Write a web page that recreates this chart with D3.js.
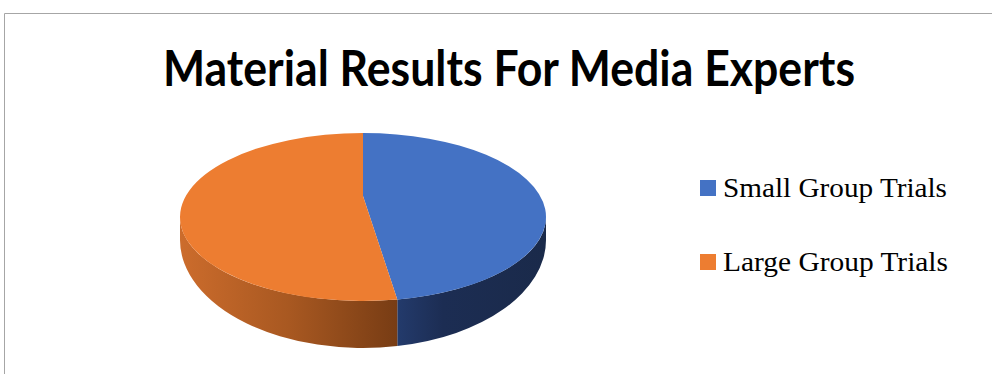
<!DOCTYPE html>
<html>
<head>
<meta charset="utf-8">
<script src="https://cdn.jsdelivr.net/npm/d3@7"></script>
<style>
  html, body { margin: 0; padding: 0; background: #fff; }
  svg { display: block; }
</style>
</head>
<body>
<svg id="chart" width="992" height="374"></svg>
<script>
var titleText = "Material Results For Media Experts";
var categories = ["Small Group Trials", "Large Group Trials"];
var values = [47, 53];
var topColors = ["#4472C4", "#ED7D31"];

var svg = d3.select("#chart");

// frame
svg.append("path")
    .attr("d", "M4.5,374 L4.5,13.5 L992,13.5")
    .attr("fill", "none")
    .attr("stroke", "#a6a6a6")
    .attr("stroke-width", 1);

svg.append("text")
    .attr("x", 509)
    .attr("y", 86)
    .attr("text-anchor", "middle")
    .attr("font-family", "Lato, 'Open Sans', sans-serif")
    .attr("font-weight", "bold")
    .attr("font-size", 50)
    .attr("textLength", 692)
    .attr("lengthAdjust", "spacingAndGlyphs")
    .attr("fill", "#000")
    .text(titleText);

// 3d pie geometry
var cx = 363, cyTop = 217, rx = 183, ryTop = 84;
var cyBot = 240, ryBot = 108;
var apexY = 196;

function pt(t, cy, ry) {
    return [cx + rx * Math.sin(t), cy - ry * Math.cos(t)];
}

var pie = d3.pie().sort(null).startAngle(0).endAngle(2 * Math.PI);
var arcs = pie(values);

var defs = svg.append("defs");
var gBlue = defs.append("linearGradient").attr("id", "sideBlue")
    .attr("gradientUnits", "userSpaceOnUse").attr("x1", 399).attr("x2", 546).attr("y1", 0).attr("y2", 0);
gBlue.append("stop").attr("offset", 0).attr("stop-color", "#233a6b");
gBlue.append("stop").attr("offset", 0.3).attr("stop-color", "#1c2d53");
gBlue.append("stop").attr("offset", 1).attr("stop-color", "#1a2a4a");
var gOrange = defs.append("linearGradient").attr("id", "sideOrange")
    .attr("gradientUnits", "userSpaceOnUse").attr("x1", 180).attr("x2", 399).attr("y1", 0).attr("y2", 0);
gOrange.append("stop").attr("offset", 0).attr("stop-color", "#cc6c2c");
gOrange.append("stop").attr("offset", 0.5).attr("stop-color", "#a85821");
gOrange.append("stop").attr("offset", 1).attr("stop-color", "#773c14");
var sideFills = ["url(#sideBlue)", "url(#sideOrange)"];

// sides (front half only)
arcs.forEach(function (a, i) {
    var a0 = Math.max(a.startAngle, Math.PI / 2),
        a1 = Math.min(a.endAngle, 3 * Math.PI / 2);
    if (a1 <= a0) return;
    var p0 = pt(a0, cyTop, ryTop), p1 = pt(a1, cyTop, ryTop),
        q1 = pt(a1, cyBot, ryBot), q0 = pt(a0, cyBot, ryBot);
    var d = "M" + p0 + " A" + rx + "," + ryTop + " 0 0 1 " + p1 +
        " L" + q1 + " A" + rx + "," + ryBot + " 0 0 0 " + q0 + " Z";
    svg.append("path").attr("d", d).attr("fill", sideFills[i]);
});

// top faces
arcs.forEach(function (a, i) {
    var p0 = pt(a.startAngle, cyTop, ryTop), p1 = pt(a.endAngle, cyTop, ryTop);
    var large = (a.endAngle - a.startAngle) > Math.PI ? 1 : 0;
    var d = "M" + cx + "," + apexY + " L" + p0 +
        " A" + rx + "," + ryTop + " 0 " + large + " 1 " + p1 + " Z";
    svg.append("path").attr("d", d).attr("fill", topColors[i]);
});

// legend
var legend = svg.append("g").selectAll("g")
    .data(categories)
    .join("g")
    .attr("transform", function (d, i) { return "translate(700," + (180 + i * 74) + ")"; });
legend.append("rect")
    .attr("width", 16).attr("height", 16)
    .attr("fill", function (d, i) { return topColors[i]; });
legend.append("text")
    .attr("x", 23).attr("y", 17)
    .attr("font-family", "'Liberation Serif', 'DejaVu Serif', serif")
    .attr("font-size", 27)
    .attr("textLength", function (d, i) { return i === 0 ? 224 : 225; })
    .attr("lengthAdjust", "spacingAndGlyphs")
    .attr("fill", "#000")
    .text(function (d) { return d; });
</script>
</body>
</html>
